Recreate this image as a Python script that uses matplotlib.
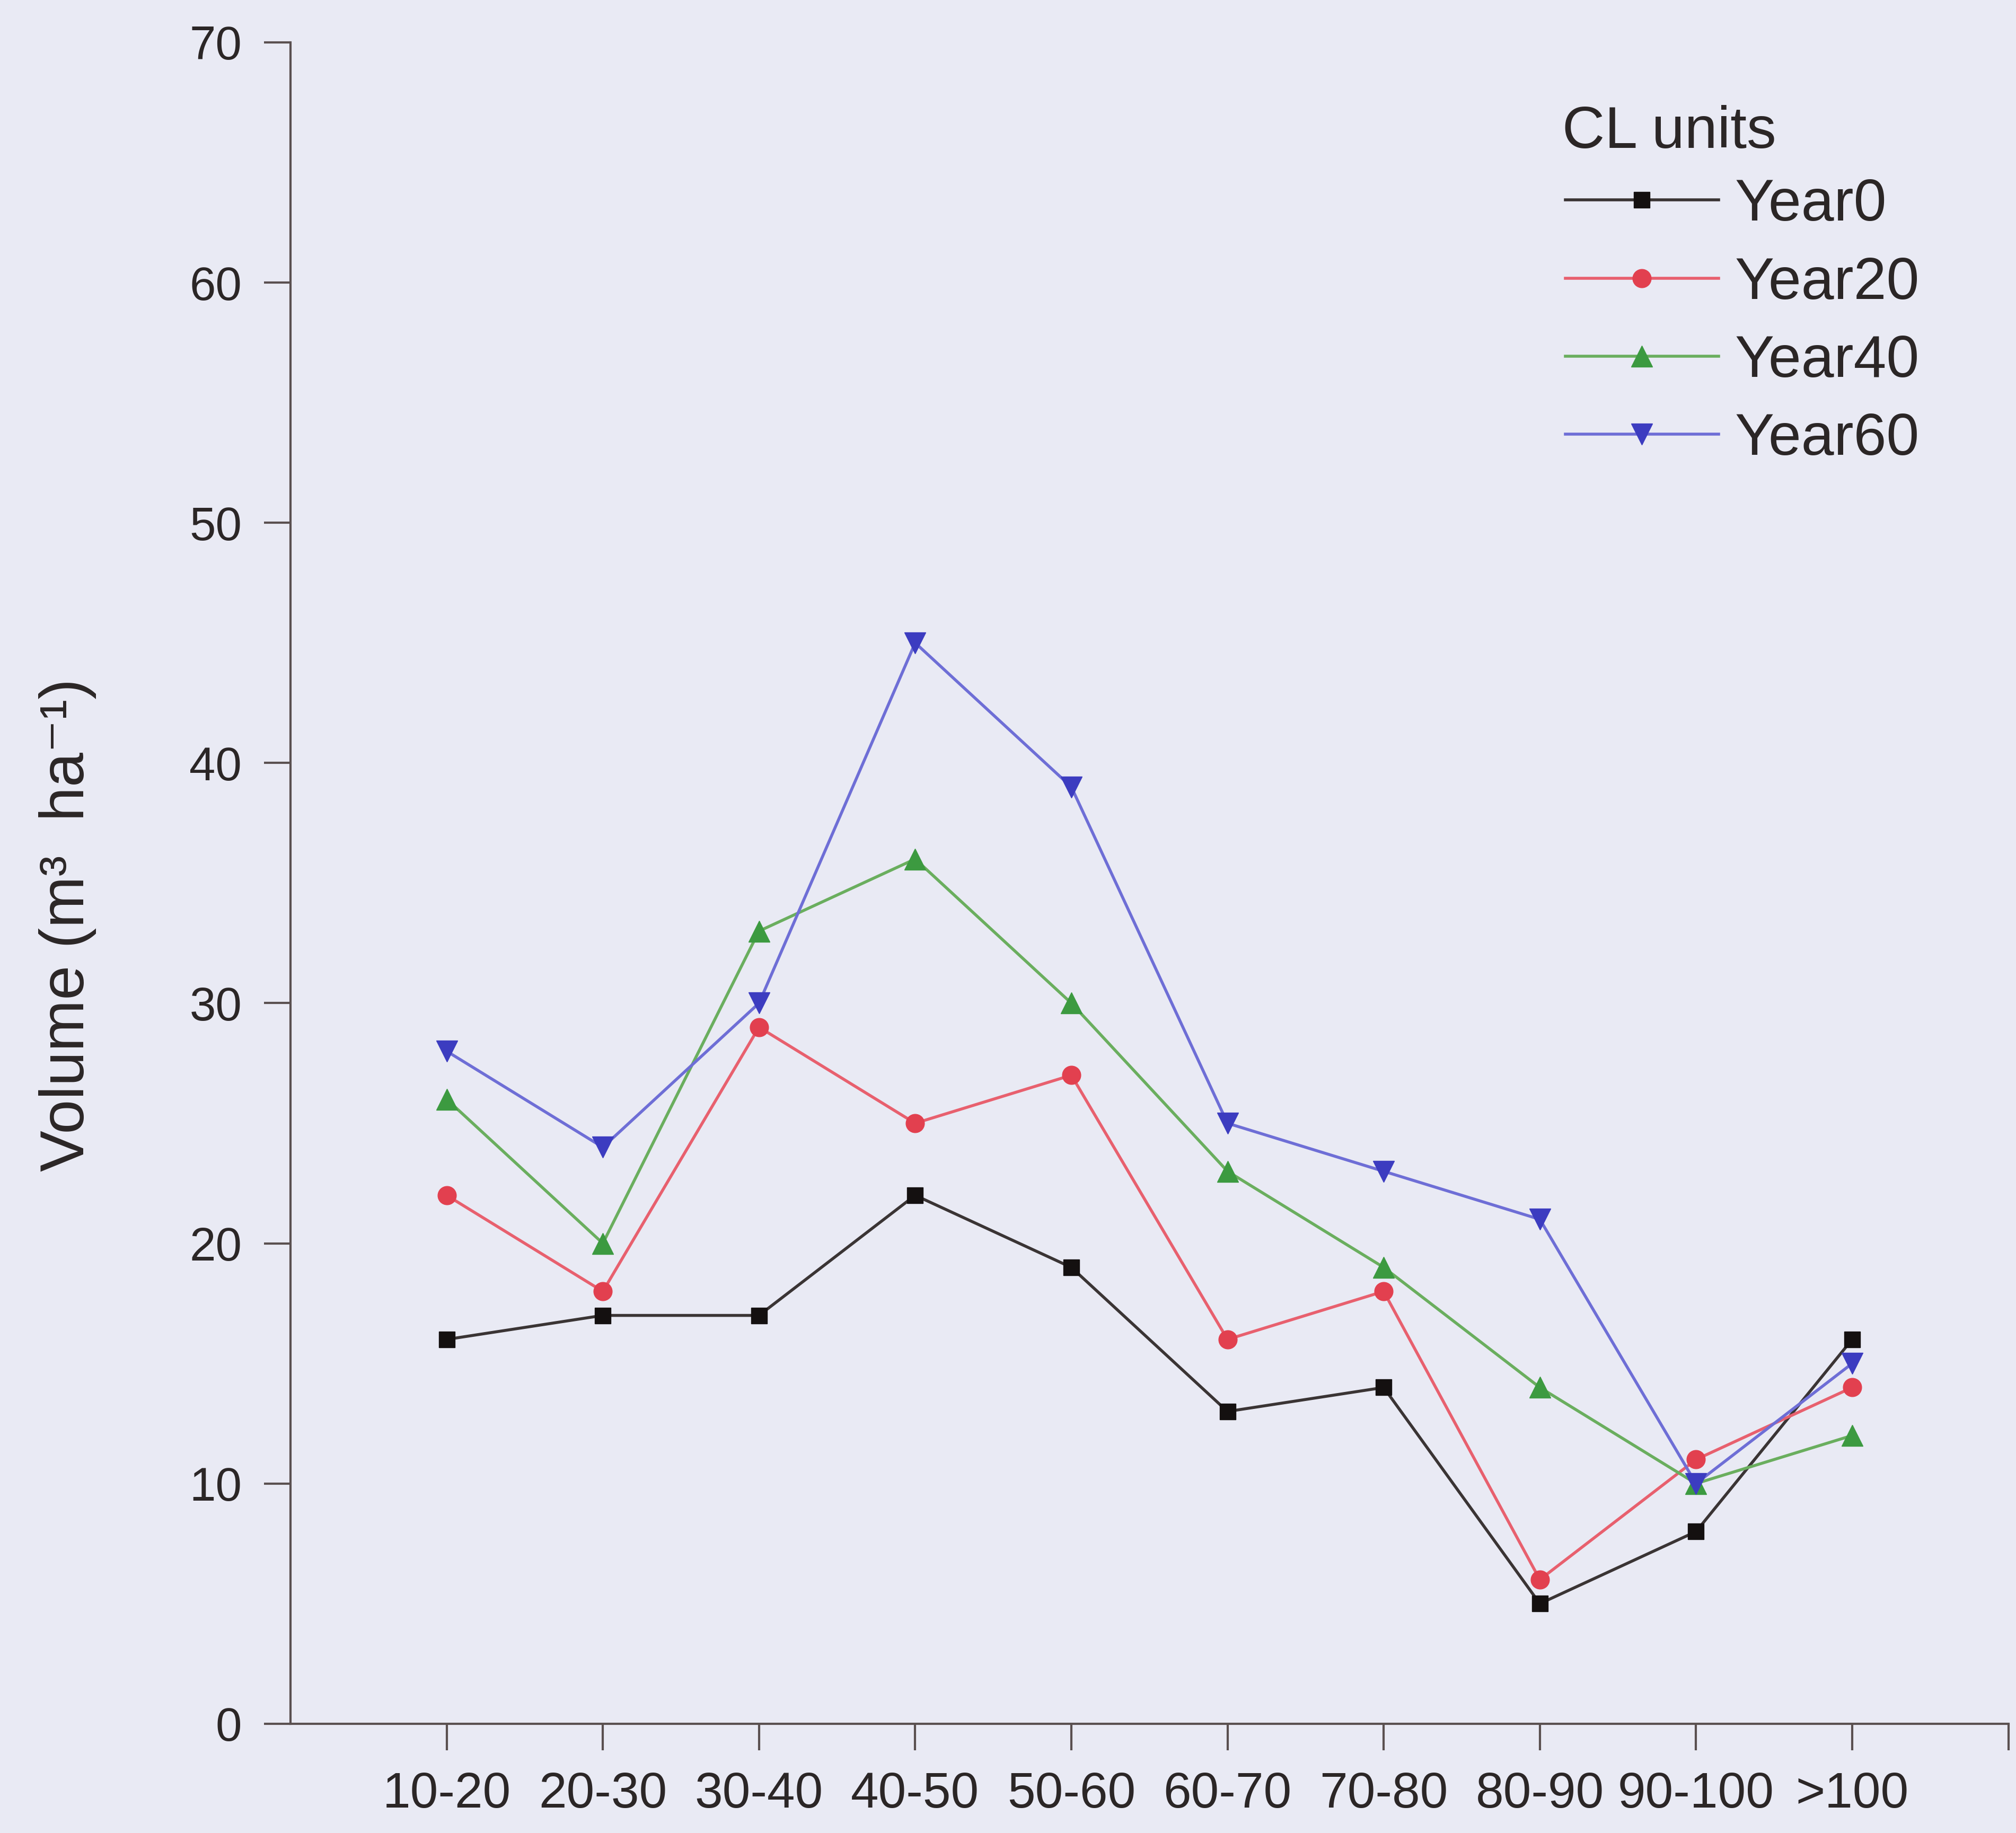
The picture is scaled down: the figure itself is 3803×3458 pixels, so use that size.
import numpy as np
import matplotlib
matplotlib.use("Agg")
import matplotlib.pyplot as plt

# Diameter classes and volume per series
classes = ["10-20", "20-30", "30-40", "40-50", "50-60", "60-70", "70-80", "80-90", "90-100", ">100"]
year0 = [16, 17, 17, 22, 19, 13, 14, 5, 8, 16]
year20 = [22, 18, 29, 25, 27, 16, 18, 6, 11, 14]
year40 = [26, 20, 33, 36, 30, 23, 19, 14, 10, 12]
year60 = [28, 24, 30, 45, 39, 25, 23, 21, 10, 15]
series_names = ["Year0", "Year20", "Year40", "Year60"]
y_ticks = [0, 10, 20, 30, 40, 50, 60, 70]

plt.rcParams["font.family"] = ["Liberation Sans", "DejaVu Sans"]

bg = "#e9eaf4"
text_c = "#2b2626"
axis_c = "#5a5050"

fig = plt.figure(figsize=(38.03, 34.58), dpi=100)
fig.patch.set_facecolor(bg)
ax = fig.add_axes([0.1441, 0.0596, 0.8521, 0.9173])
ax.set_facecolor(bg)

x = np.arange(1, len(classes) + 1)
styles = [
    dict(color="#3a3434", marker="s", markersize=22, mfc="#141010", mec="#141010"),
    dict(color="#e8606e", marker="o", markersize=25, mfc="#e2404f", mec="#e2404f"),
    dict(color="#6aae5e", marker="^", markersize=29, mfc="#3c9a40", mec="#3c9a40"),
    dict(color="#6e6ed6", marker="v", markersize=29, mfc="#3c3cc0", mec="#3c3cc0"),
]
for vals, name, st in zip([year0, year20, year40, year60], series_names, styles):
    ax.plot(x, vals, linewidth=4, label=name, **st)

ax.set_xlim(0, len(classes) + 1)
ax.set_ylim(0, 70)
ax.set_yticks(y_ticks)
ax.set_xticks(np.arange(1, len(classes) + 2))
ax.set_xticklabels(classes + [""])

for side in ["top", "right"]:
    ax.spines[side].set_visible(False)
for side in ["left", "bottom"]:
    ax.spines[side].set_color(axis_c)
    ax.spines[side].set_linewidth(3)

ax.tick_params(axis="both", colors=axis_c, length=36, width=3, direction="out",
               labelcolor=text_c)
ax.tick_params(axis="y", labelsize=64, pad=30)
ax.tick_params(axis="x", labelsize=68, pad=28)

ax.set_ylabel("Volume (m³  ha⁻¹)", fontsize=84, color=text_c)
ax.yaxis.set_label_coords(-0.113, 0.475)

leg = ax.legend(loc="upper left", bbox_to_anchor=(0.725, 0.937),
                frameon=False, fontsize=80, numpoints=1,
                handlelength=2.6, handletextpad=0.28, labelspacing=0.39,
                borderpad=0)
for t in leg.get_texts():
    t.set_color(text_c)
fig.text(0.7749, 0.9278, "CL units", fontsize=80, color=text_c, ha="left", va="center")

fig.savefig("out.png", dpi=100, facecolor=bg)
